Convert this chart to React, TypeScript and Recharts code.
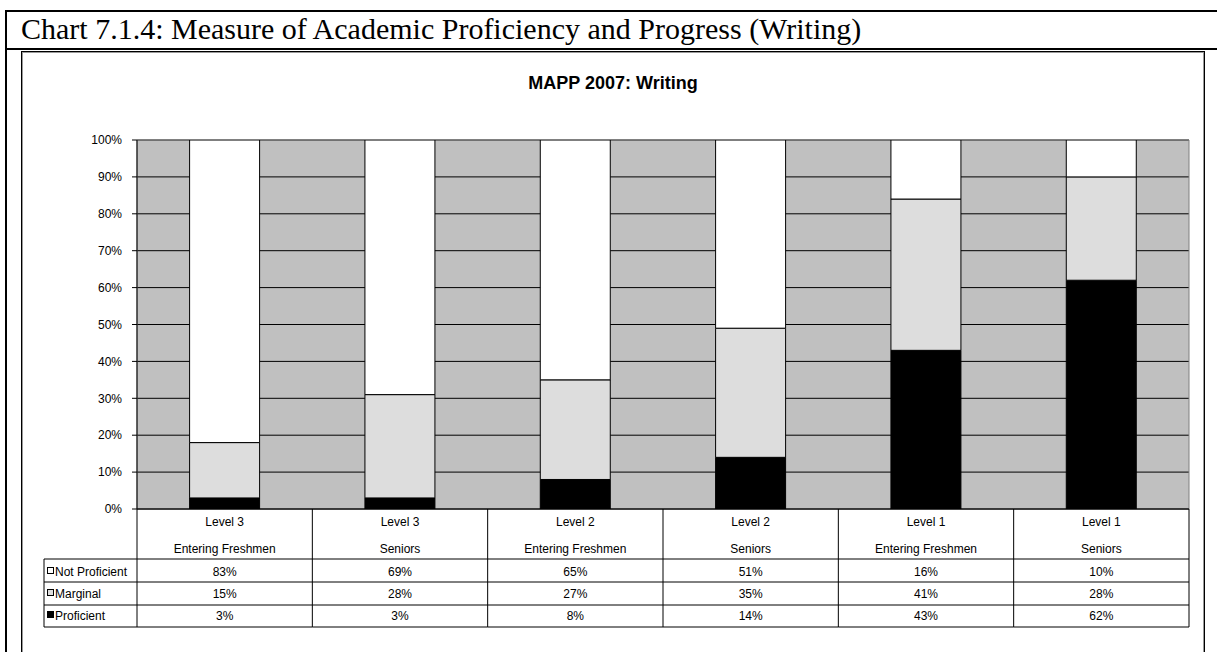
import React from "react";
import {
  BarChart,
  Bar,
  XAxis,
  YAxis,
  CartesianGrid,
  ReferenceArea,
} from "recharts";

// Chart 7.1.4 - MAPP 2007 Writing, shares per group (%)
const levels = ["Level 3", "Level 3", "Level 2", "Level 2", "Level 1", "Level 1"];
const groups = [
  "Entering Freshmen",
  "Seniors",
  "Entering Freshmen",
  "Seniors",
  "Entering Freshmen",
  "Seniors",
];
const notProficient = [83, 69, 65, 51, 16, 10];
const marginal = [15, 28, 27, 35, 41, 28];
const proficient = [3, 3, 8, 14, 43, 62];
const yTicks = [0, 10, 20, 30, 40, 50, 60, 70, 80, 90, 100];

// table rows, top to bottom (same order as the excel data table)
const series = [
  { key: "notProficient", name: "Not Proficient", values: notProficient, fill: "#FFFFFF" },
  { key: "marginal", name: "Marginal", values: marginal, fill: "#DDDDDD" },
  { key: "proficient", name: "Proficient", values: proficient, fill: "#000000" },
];

const data = levels.map((level, i) => ({
  id: String(i),
  level,
  group: groups[i],
  notProficient: notProficient[i],
  marginal: marginal[i],
  proficient: proficient[i],
}));

const W = 1217;
const H = 652;
const MARGIN = { top: 140, right: 28, bottom: 25, left: 0 };
const Y_AXIS_W = 137;
const X_AXIS_H = 118;
const PLOT_W = W - MARGIN.left - MARGIN.right - Y_AXIS_W;
const BAND = PLOT_W / levels.length;
const LEGEND_LEFT = 44;

const SANS = "'Liberation Sans', Arial, sans-serif";

// row layout of the data table under the axis (offsets from axis line)
const HEADER_BOTTOM = 50;
const ROW_BOTTOMS = [73, 96, 118];
const ROW_BASELINES = [67, 89, 111];

const TableTick = (props: any) => {
  const { x, y, payload } = props;
  const i = Number(payload.value);
  const left = x - BAND / 2;
  const right = x + BAND / 2;
  const line = { stroke: "#000", strokeWidth: 1 };
  return (
    <g>
      {i === 0 && (
        <g>
          <line x1={left} y1={y} x2={left} y2={y + X_AXIS_H} {...line} />
          <line x1={LEGEND_LEFT} y1={y + HEADER_BOTTOM} x2={left} y2={y + HEADER_BOTTOM} {...line} />
          <line x1={LEGEND_LEFT} y1={y + HEADER_BOTTOM} x2={LEGEND_LEFT} y2={y + X_AXIS_H} {...line} />
          {series.map((s, r) => (
            <g key={s.key}>
              <line x1={LEGEND_LEFT} y1={y + ROW_BOTTOMS[r]} x2={left} y2={y + ROW_BOTTOMS[r]} {...line} />
              <rect
                x={LEGEND_LEFT + 3.5}
                y={y + ROW_BASELINES[r] - 8.5}
                width={6}
                height={6}
                fill={s.fill}
                stroke="#000"
                strokeWidth={1}
              />
              <text
                x={LEGEND_LEFT + 11}
                y={y + ROW_BASELINES[r]}
                fontSize={12}
                fontFamily={SANS}
                fill="#000"
              >
                {s.name}
              </text>
            </g>
          ))}
        </g>
      )}
      <line x1={right} y1={y} x2={right} y2={y + X_AXIS_H} {...line} />
      <line x1={left} y1={y + HEADER_BOTTOM} x2={right} y2={y + HEADER_BOTTOM} {...line} />
      {ROW_BOTTOMS.map((b) => (
        <line key={b} x1={left} y1={y + b} x2={right} y2={y + b} {...line} />
      ))}
      <text x={x} y={y + 17} textAnchor="middle" fontSize={12} fontFamily={SANS} fill="#000">
        {levels[i]}
      </text>
      <text x={x} y={y + 44} textAnchor="middle" fontSize={12} fontFamily={SANS} fill="#000">
        {groups[i]}
      </text>
      {series.map((s, r) => (
        <text
          key={s.key}
          x={x}
          y={y + ROW_BASELINES[r]}
          textAnchor="middle"
          fontSize={12}
          fontFamily={SANS}
          fill="#000"
        >
          {s.values[i] + "%"}
        </text>
      ))}
    </g>
  );
};

export default function App() {
  return (
    <div
      style={{
        position: "absolute",
        left: 0,
        top: 0,
        width: W,
        height: H,
        overflow: "hidden",
        background: "#fff",
      }}
    >
      <svg width={W} height={H} style={{ position: "absolute", left: 0, top: 0 }}>
        <rect x={6} y={11} width={1400} height={800} fill="none" stroke="#000" strokeWidth={2} />
        <line x1={6} y1={49} x2={W} y2={49} stroke="#000" strokeWidth={2} />
        <text
          x={21}
          y={39}
          fontSize={30}
          fontFamily="'Liberation Serif', 'Times New Roman', serif"
          fill="#000"
        >
          Chart 7.1.4: Measure of Academic Proficiency and Progress (Writing)
        </text>
        <rect x={21.5} y={51.5} width={1183} height={800} fill="none" stroke="#000" strokeWidth={1} />
        <rect x={22.5} y={52.5} width={1181} height={800} fill="none" stroke="#999" strokeWidth={1} />
        <text
          x={613}
          y={89}
          textAnchor="middle"
          fontSize={18}
          fontWeight="bold"
          fontFamily={SANS}
          fill="#000"
        >
          MAPP 2007: Writing
        </text>
      </svg>
      <div style={{ position: "absolute", left: 0, top: 0 }}>
        <BarChart
          width={W}
          height={H}
          data={data}
          margin={MARGIN}
          barCategoryGap="30%"
        >
          <CartesianGrid
            vertical={false}
            stroke="#000"
            strokeOpacity={1}
            fill="#C0C0C0"
            fillOpacity={1}
          />
          <ReferenceArea y1={0} y2={100} fill="none" stroke="#808080" strokeWidth={1} />
          <XAxis
            dataKey="id"
            height={X_AXIS_H}
            interval={0}
            tickLine={false}
            tickSize={0}
            tickMargin={0}
            axisLine={{ stroke: "#000" }}
            tick={<TableTick />}
          />
          <YAxis
            width={Y_AXIS_W}
            domain={[0, 100]}
            ticks={yTicks}
            allowDataOverflow
            tickFormatter={(v) => `${v}%`}
            tickSize={5}
            tickMargin={10}
            tickLine={{ stroke: "#000" }}
            axisLine={{ stroke: "#000" }}
            tick={{ fill: "#000", fontSize: 12, fontFamily: SANS }}
          />
          <Bar dataKey="proficient" stackId="a" fill="#000000" stroke="#000" strokeWidth={1} isAnimationActive={false} />
          <Bar dataKey="marginal" stackId="a" fill="#DDDDDD" stroke="#000" strokeWidth={1} isAnimationActive={false} />
          <Bar dataKey="notProficient" stackId="a" fill="#FFFFFF" stroke="#000" strokeWidth={1} isAnimationActive={false} />
        </BarChart>
      </div>
    </div>
  );
}
